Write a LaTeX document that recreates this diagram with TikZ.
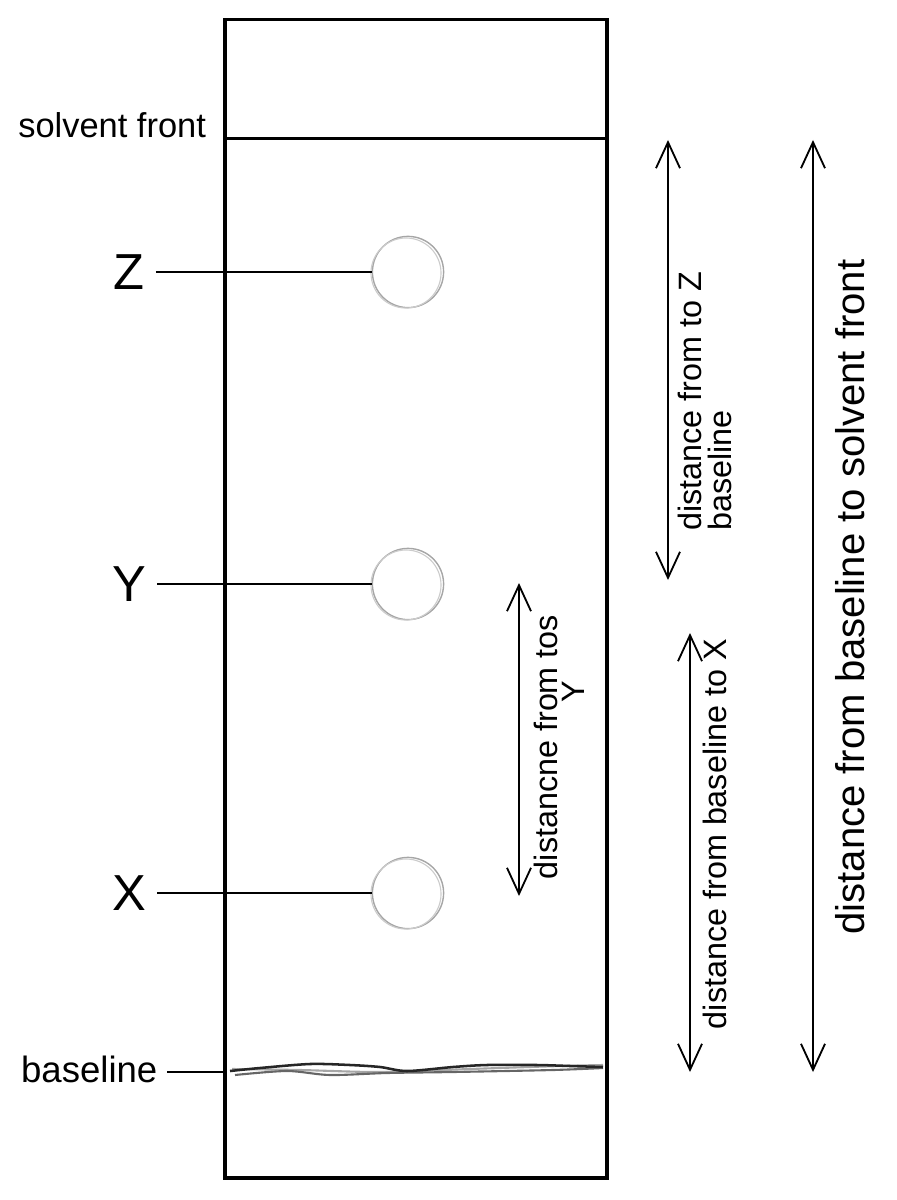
\documentclass[tikz,border=0pt]{standalone}
\usepackage{fontspec}
\setmainfont{Liberation Sans}
\usetikzlibrary{arrows.meta}

\begin{document}
\begin{tikzpicture}[x=0.025cm,y=-0.025cm,
	plate/.style={line width=2.2pt},
	lead/.style={line width=1.9pt},
	dist/.style={line width=1.3pt,{Straight Barb[length=0.65cm,width=0.6cm]}-{Straight Barb[length=0.65cm,width=0.6cm]}},
	spot/.style={circle,draw=black!35,line width=1pt,minimum size=1.78cm,inner sep=0},
	letter/.style={font=\fontsize{36}{36}\selectfont,inner sep=8pt},
	side/.style={font=\fontsize{24.5}{25}\selectfont,inner sep=0},
	note/.style={font=\fontsize{23}{21}\selectfont,rotate=90,inner sep=0,align=left},
	bignote/.style={font=\fontsize{28.5}{28}\selectfont,rotate=90,inner sep=0}]
		%%%%% START %%%%%
		\useasboundingbox (0,0) rectangle (896,1200);
		
		% plate and solvent front
		\draw[plate] (225,19.5) rectangle (607,1178);
		\draw[plate] (225,138.5) -- (607,138.5);
		\node[side,anchor=base west] (sf) at (18,138) {solvent front};
		
		% spots
		\node[spot] (Zs) at (408,272) {};
		\node[spot] (Ys) at (408,584) {};
		\node[spot] (Xs) at (408,893) {};
		\draw[black!20,line width=0.8pt] (406,273) circle[radius=0.875cm];
		\draw[black!20,line width=0.8pt] (406,585) circle[radius=0.875cm];
		\draw[black!20,line width=0.8pt] (406,894) circle[radius=0.875cm];
		
		\node[letter] (Zl) at (129,272) {Z};
		\node[letter] (Yl) at (129,584) {Y};
		\node[letter] (Xl) at (129,893) {X};
		\draw[lead] (Zl) -- (Zs);
		\draw[lead] (Yl) -- (Ys);
		\draw[lead] (Xl) -- (Xs);
		
		% baseline (pencil)
		\draw[black!35,line width=1.5pt] plot[smooth] coordinates {(232,1069) (300,1070) (380,1072) (470,1069) (560,1066) (603,1065)};
		\draw[black!60,line width=1.5pt] plot[smooth] coordinates {(235,1075) (287,1071) (330,1075) (387,1073) (453,1072) (553,1070) (603,1068)};
		\draw[black!85,line width=1.8pt] plot[smooth] coordinates {(230,1071) (260,1068) (310,1064) (350,1065) (380,1067) (407,1071) (453,1067) (487,1065) (537,1065) (570,1066) (603,1067)};
		
		\node[side,font=\fontsize{26}{26}\selectfont,anchor=base west,inner sep=7pt] (bl) at (11,1082) {baseline};
		\coordinate (blend) at (224,1072);
		\draw[lead] (bl.east |- blend) -- (blend);
		
		% distances
		\coordinate (ztop) at (668,140);
		\coordinate (zbot) at (668,580);
		\draw[dist] (ztop) -- (zbot);
		\node[note,anchor=west] (zd) at (705,531) {distance from to Z\\baseline};
		
		\coordinate (ytop) at (519,583);
		\coordinate (ybot) at (519,896);
		\draw[dist] (ytop) -- (ybot);
		\node[note] (yd) at (546,747) {distancne from tos};
		\node[note] (yd2) at (573,692) {Y};
		
		\coordinate (xtop) at (690,633);
		\coordinate (xbot) at (690,1072);
		\draw[dist] (xtop) -- (xbot);
		\node[note] (xd) at (715,834) {distance from baseline to X};
		
		\coordinate (ftop) at (813,140);
		\coordinate (fbot) at (813,1072);
		\draw[dist] (ftop) -- (fbot);
		\node[bignote] (fd) at (850,597) {distance from baseline to solvent front};
		%%%%% END %%%%%
\end{tikzpicture}
\end{document}
